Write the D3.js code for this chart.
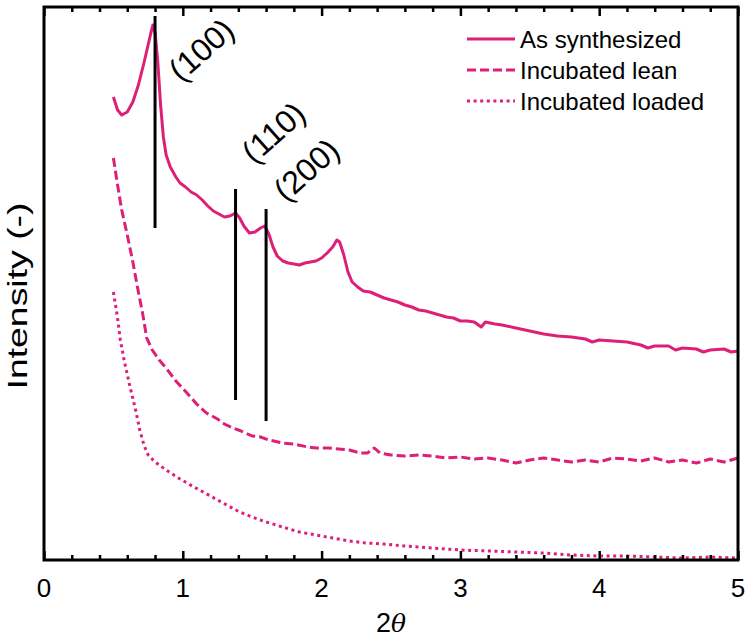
<!DOCTYPE html>
<html>
<head>
<meta charset="utf-8">
<script src="https://cdn.jsdelivr.net/npm/d3@7"></script>
<style>
  body { margin: 0; background: #fff; }
  text { font-family: "Liberation Sans", Arial, sans-serif; fill: #000; }
</style>
</head>
<body>
<svg id="chart" width="750" height="640"></svg>
<script>
// 2theta values and intensities (arbitrary units)
var synthX = [0.50,0.53,0.56,0.60,0.64,0.68,0.72,0.75,0.77,0.785,0.80,0.82,0.84,0.86,0.88,0.91,0.95,0.98,1.02,1.06,1.10,1.14,1.18,1.22,1.26,1.30,1.34,1.38,1.41,1.44,1.48,1.52,1.56,1.59,1.62,1.65,1.68,1.72,1.76,1.80,1.84,1.88,1.92,1.96,2.00,2.04,2.08,2.11,2.13,2.16,2.19,2.22,2.26,2.30,2.35,2.40,2.45,2.50,2.55,2.60,2.65,2.70,2.75,2.80,2.85,2.90,2.95,3.00,3.05,3.10,3.15,3.18,3.25,3.30,3.40,3.50,3.60,3.70,3.80,3.90,3.95,4.00,4.10,4.20,4.30,4.35,4.40,4.50,4.55,4.60,4.70,4.75,4.80,4.90,4.95,5.00];
var synthY = [463,450,445,448,458,475,497,515,527,535,528,498,455,423,405,393,383,377,373,368,365,360,354,349,346,343,344,347,342,334,327,328,332,334,326,313,304,299,297,296,295,297,298,299,302,307,313,320,318,305,288,278,273,269,268,265,262,260,258,255,253,250,249,247,245,243,242,239,239,238,233,238,236,235,232,229,226,224,223,221,218,220,219,218,215,212,214,214,210,212,211,208,210,211,208,209];

var leanX = [0.50,0.53,0.56,0.60,0.64,0.68,0.71,0.74,0.78,0.83,0.88,0.95,1.03,1.10,1.17,1.25,1.30,1.36,1.42,1.50,1.56,1.62,1.72,1.80,1.90,1.96,2.05,2.12,2.20,2.28,2.33,2.38,2.42,2.50,2.60,2.70,2.80,2.90,3.00,3.10,3.20,3.30,3.40,3.50,3.60,3.70,3.80,3.90,4.00,4.10,4.20,4.30,4.40,4.50,4.60,4.70,4.80,4.90,5.00];
var leanY = [402,375,350,325,298,268,247,222,210,200,192,179,167,156,147,141,136,132,129,124,123,120,117,116,113,112,112,111,110,107,107,112,107,105,104,105,104,102,103,101,102,100,97,100,102,100,98,100,98,102,101,99,102,98,100,97,101,98,102];

var loadX = [0.50,0.53,0.55,0.58,0.62,0.66,0.69,0.72,0.75,0.80,0.88,0.98,1.08,1.16,1.25,1.33,1.41,1.50,1.60,1.72,1.84,1.96,2.08,2.20,2.32,2.45,2.60,2.80,3.00,3.20,3.40,3.60,3.80,4.00,4.20,4.40,4.60,4.80,5.00];
var loadY = [268,242,220,198,173,150,130,115,105,98,90,81,73,67,60,54,48,43,38,33,28,25,22,19,17,16,14,12,10,9,8,7,5,4,4,3,2,3,2];

var seriesNames = ["As synthesized", "Incubated lean", "Incubated loaded"];

// reflections marked by vertical bars
var peakPos = [0.8, 1.38, 1.6];
var peakTop = [544, 371, 351];
var peakBottom = [332, 160, 139];
var peakLabels = ["(100)", "(110)", "(200)"];

var xTicks = [0, 1, 2, 3, 4, 5];

var svg = d3.select("#chart");
var margin = {left: 44, right: 12, top: 7, bottom: 80};
var W = 750, H = 640;

var x = d3.scaleLinear().domain([0, 5]).range([margin.left, W - margin.right]);
var y = d3.scaleLinear().domain([0, 553]).range([H - margin.bottom, margin.top]);

var pink = "#de1f77";
var dashes = [null, "9,4", "3,3.6"];

var data = [
  d3.zip(synthX, synthY),
  d3.zip(leanX, leanY),
  d3.zip(loadX, loadY)
];

var line = d3.line()
  .x(function(d) { return x(d[0]); })
  .y(function(d) { return y(d[1]); });

svg.selectAll("path.series")
  .data(data)
  .enter()
  .append("path")
    .attr("class", "series")
    .attr("d", line)
    .attr("fill", "none")
    .attr("stroke", pink)
    .attr("stroke-width", 3)
    .attr("stroke-linejoin", "round")
    .attr("stroke-dasharray", function(d, i) { return dashes[i]; });

// peak bars
svg.selectAll("line.peak")
  .data(peakPos)
  .enter()
  .append("line")
    .attr("class", "peak")
    .attr("x1", function(d) { return x(d); })
    .attr("x2", function(d) { return x(d); })
    .attr("y1", function(d, i) { return y(peakTop[i]); })
    .attr("y2", function(d, i) { return y(peakBottom[i]); })
    .attr("stroke", "#000")
    .attr("stroke-width", 3);

// label anchor offsets from the top of each bar
var labelDx = [0.187, 0.133, 0.144];
var labelDy = [-67, 24, 6];
svg.selectAll("text.peak")
  .data(peakLabels)
  .enter()
  .append("text")
    .attr("class", "peak")
    .attr("font-size", 32)
    .attr("transform", function(d, i) {
      return "translate(" + x(peakPos[i] + labelDx[i]) + "," + y(peakTop[i] + labelDy[i]) + ") rotate(-42)";
    })
    .text(function(d) { return d; });

// frame and ticks
var bottomAxis = d3.axisBottom(x).tickValues(d3.range(0, 5.01, 0.2)).tickSize(-5).tickFormat("");
var gb = svg.append("g").attr("transform", "translate(0," + y(0) + ")").call(bottomAxis);
gb.selectAll(".tick line").attr("stroke-width", 2.5)
  .attr("y2", function(d) { return Math.abs(d - Math.round(d)) < 1e-6 ? -9 : -5; });
gb.select(".domain").remove();

var topAxis = d3.axisTop(x).tickValues(d3.range(0, 5.01, 0.2)).tickSize(-5).tickFormat("");
var gt = svg.append("g").attr("transform", "translate(0," + y(553) + ")").call(topAxis);
gt.selectAll(".tick line").attr("stroke-width", 2.5)
  .attr("y2", function(d) { return Math.abs(d - Math.round(d)) < 1e-6 ? 9 : 5; });
gt.select(".domain").remove();

svg.append("rect")
  .attr("x", x(0)).attr("y", y(553))
  .attr("width", x(5) - x(0)).attr("height", y(0) - y(553))
  .attr("fill", "none").attr("stroke", "#000").attr("stroke-width", 3);

svg.selectAll("text.xtick")
  .data(xTicks)
  .enter()
  .append("text")
    .attr("class", "xtick")
    .attr("x", function(d) { return x(d); })
    .attr("y", y(0) + 37)
    .attr("text-anchor", "middle")
    .attr("font-size", 26)
    .text(function(d) { return d; });

var xl = svg.append("text")
  .attr("x", (x(0) + x(5)) / 2)
  .attr("y", y(0) + 72)
  .attr("text-anchor", "middle")
  .attr("font-size", 27);
xl.append("tspan").text("2");
xl.append("tspan").attr("font-style", "italic").attr("font-family", "DejaVu Serif, serif").attr("font-size", 25).text("θ");

svg.append("text")
  .attr("transform", "translate(27,296) rotate(-90)")
  .attr("text-anchor", "middle")
  .attr("font-size", 28)
  .attr("textLength", 187)
  .attr("lengthAdjust", "spacingAndGlyphs")
  .text("Intensity (-)");

// legend
var legend = svg.selectAll("g.legend")
  .data(seriesNames)
  .enter()
  .append("g")
    .attr("class", "legend")
    .attr("transform", function(d, i) { return "translate(467," + (39 + i * 31) + ")"; });

legend.append("line")
  .attr("x1", 0).attr("x2", 48)
  .attr("stroke", pink)
  .attr("stroke-width", 3)
  .attr("stroke-dasharray", function(d, i) { return dashes[i]; });

legend.append("text")
  .attr("x", 53)
  .attr("y", 9)
  .attr("font-size", 24)
  .text(function(d) { return d; });
</script>
</body>
</html>
